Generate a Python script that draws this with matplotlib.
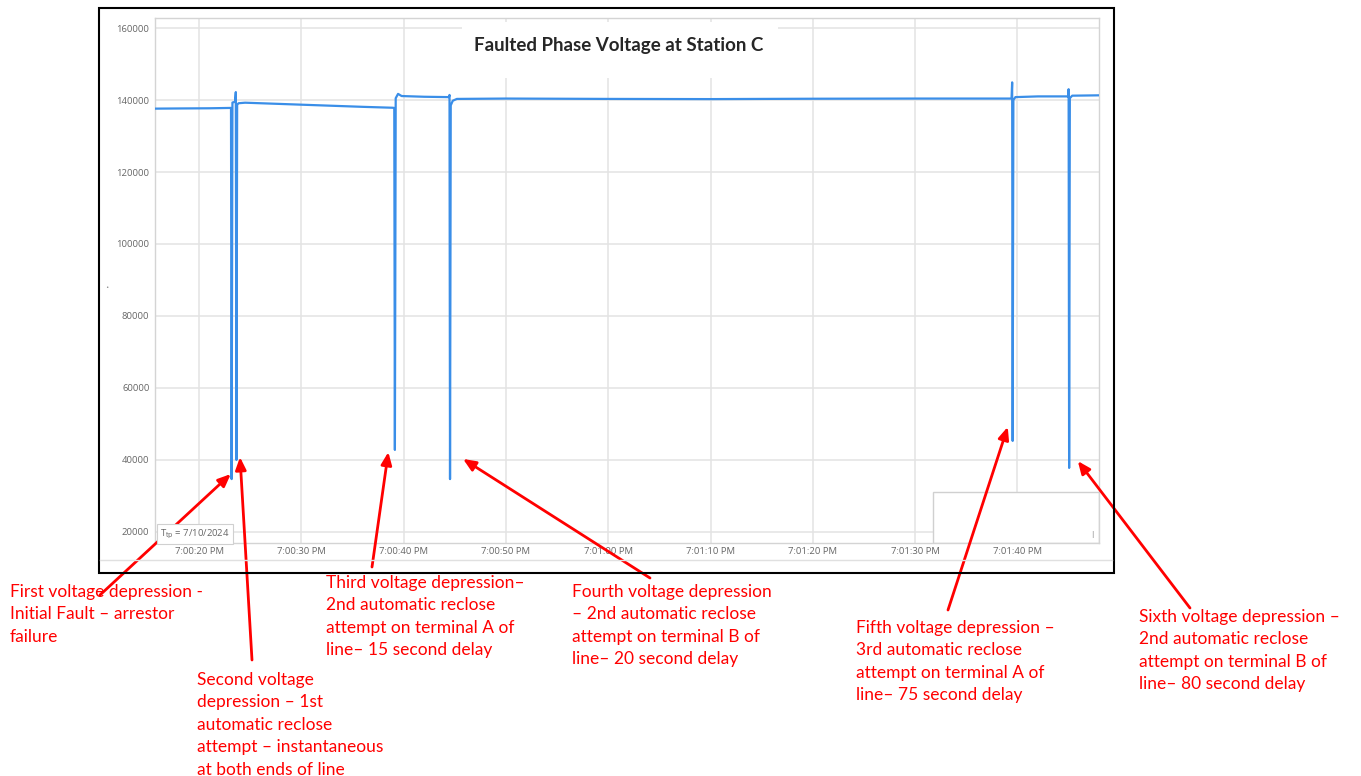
#faulted phase voltage chart with annotations
import numpy as np
import matplotlib.pyplot as plt
from matplotlib.patches import Rectangle

#seconds after 7:00:00 PM and phase voltage
t_sec = [15.6, 18.0, 21.0, 23.12, 23.18, 23.26, 23.52, 23.59, 23.65, 23.72, 23.86, 24.5,
         28.0, 32.0, 36.0, 38.9, 39.08, 39.14, 39.22, 39.45, 39.8, 42.0,
         44.42, 44.48, 44.53, 44.60, 44.80, 45.2, 50.0, 60.0, 70.0, 80.0, 90.0,
         99.42, 99.48, 99.53, 99.60, 99.80, 102.0, 104.96, 105.00, 105.05, 105.12, 105.35, 108.0]
volts = [137600, 137650, 137700, 137800, 34700, 139300, 139500, 142200, 40000, 138700, 139100, 139250,
         138900, 138500, 138100, 137850, 137800, 42800, 140500, 141700, 141100, 140900,
         140800, 141400, 34700, 138500, 139800, 140300, 140400, 140300, 140250, 140350, 140400,
         140400, 144900, 45300, 140000, 140800, 141000, 141000, 143000, 37800, 140500, 141200, 141300]

xtick_sec = [20, 30, 40, 50, 60, 70, 80, 90, 100]
xtick_labels = ['7:00:20 PM', '7:00:30 PM', '7:00:40 PM', '7:00:50 PM', '7:01:00 PM',
                '7:01:10 PM', '7:01:20 PM', '7:01:30 PM', '7:01:40 PM']
ytick_vals = [20000, 40000, 60000, 80000, 100000, 120000, 140000, 160000]

title = 'Faulted Phase Voltage at Station C'

#annotation text, where each arrow points (time, volts)
notes = [
    ['First voltage depression -', 'Initial Fault \u2013 arrestor', 'failure'],
    ['Second voltage', 'depression \u2013 1st', 'automatic reclose', 'attempt \u2013 instantaneous', 'at both ends of line'],
    ['Third voltage depression\u2013', '2nd automatic reclose', 'attempt on terminal A of', 'line\u2013 15 second delay'],
    ['Fourth voltage depression', '\u2013 2nd automatic reclose', 'attempt on terminal B of', 'line\u2013 20 second delay'],
    ['Fifth voltage depression \u2013', '3rd automatic reclose', 'attempt on terminal A of', 'line\u2013 75 second delay'],
    ['Sixth voltage depression \u2013', '2nd automatic reclose', 'attempt on terminal B of', 'line\u2013 80 second delay'],
]
arrow_t = [23.1, 24.0, 38.5, 45.8, 99.05, 105.9]
arrow_v = [36100, 40800, 42200, 40300, 49200, 39700]

W, H = 1361, 776
fig = plt.figure(figsize=(W / 100, H / 100), dpi=100)
ax = fig.add_axes([155 / W, 1 - 543 / H, (1099 - 155) / W, (543 - 18) / H])

ax.plot(t_sec, volts, color='#3a8ee8', lw=1.6, zorder=3)
ax.set_xlim(15.69, 107.97)
ax.set_ylim(16944, 162778)
ax.set_xticks(xtick_sec)
ax.set_xticklabels(xtick_labels)
ax.set_yticks(ytick_vals)
ax.grid(True, color='#e3e3e3', lw=1.1, zorder=0)
ax.tick_params(length=0, labelsize=6.8, labelcolor='#666666', pad=4)
ax.tick_params(axis='x', pad=3)
for lab in ax.get_xticklabels() + ax.get_yticklabels():
    lab.set_family('Open Sans')
for s in ax.spines.values():
    s.set_color('#d4d4d4')
    s.set_linewidth(1.0)

#white patch behind the title (leaves the top border) and the empty box bottom right
fig.patches.append(Rectangle((462 / W, 1 - 78 / H), 316 / W, 56 / H, transform=fig.transFigure,
                             facecolor='white', edgecolor='none', zorder=2))
ax.add_patch(Rectangle((933 / W, 1 - 543 / H), 166 / W, 51 / H, transform=fig.transFigure,
                       facecolor='white', edgecolor='#d0d0d0', lw=1.0, zorder=2))
fig.text(619 / W, 1 - 45 / H, title, ha='center', va='center', fontsize=13.5, fontweight='bold',
         family='Lato', color='#262626', zorder=5)

#date box and small marks
fig.text(160 / W, 1 - 534 / H, 'T$_{\\rm tp}$ = 7/10/2024', fontsize=6.8, color='#666666', family='Open Sans',
         va='center', bbox=dict(facecolor='white', edgecolor='#d0d0d0', boxstyle='square,pad=0.35', lw=0.8))
fig.text(107 / W, 1 - 288 / H, '\u2022', fontsize=4, color='#888888', ha='center', va='center')
fig.text(1092 / W, 1 - 535 / H, '|', fontsize=5, color='#888888', ha='center', va='center')

#outer frame
fig.patches.append(Rectangle((99 / W, 1 - 573 / H), 1015 / W, 565 / H, transform=fig.transFigure,
                             facecolor='none', edgecolor='black', lw=1.5, zorder=1))
fig.lines.append(plt.Line2D([100 / W, 1112 / W], [1 - 560 / H, 1 - 560 / H], transform=fig.transFigure,
                            color='#e0e0e0', lw=1.0))

#annotation text, one line at a time
note_x = [10, 197, 326, 572, 856, 1139]
note_y = [597, 685, 588, 597, 633, 622]
for i in range(len(notes)):
    for j, line in enumerate(notes[i]):
        fig.text(note_x[i] / W, 1 - (note_y[i] + j * 22.4) / H, line, color='#ff0000',
                 fontsize=12.5, family='Lato', va='baseline', ha='left')

#red arrows
tail_x = [100, 252, 372, 650, 948, 1190]
tail_y = [595, 660, 567, 578, 610, 608]
for i in range(len(arrow_t)):
    ax.annotate('', xy=(arrow_t[i], arrow_v[i]), xycoords='data',
                xytext=(tail_x[i] / W, 1 - tail_y[i] / H), textcoords='figure fraction',
                annotation_clip=False,
                arrowprops=dict(arrowstyle='-|>,head_length=0.75,head_width=0.32', color='#ff0000',
                                lw=2, shrinkA=0, shrinkB=0), zorder=6)

plt.savefig('out.png', dpi=100)
